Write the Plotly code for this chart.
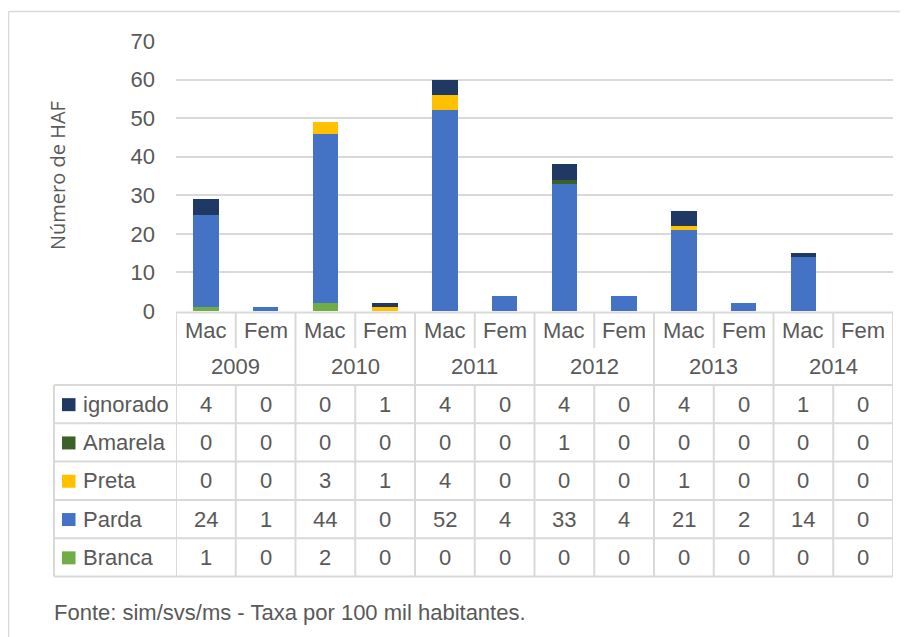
import plotly.graph_objects as go

years = ["2009", "2010", "2011", "2012", "2013", "2014"]
sexes = ["Mac", "Fem"]
ignorado = [4, 0, 0, 1, 4, 0, 4, 0, 4, 0, 1, 0]
amarela = [0, 0, 0, 0, 0, 0, 1, 0, 0, 0, 0, 0]
preta = [0, 0, 3, 1, 4, 0, 0, 0, 1, 0, 0, 0]
parda = [24, 1, 44, 0, 52, 4, 33, 4, 21, 2, 14, 0]
branca = [1, 0, 2, 0, 0, 0, 0, 0, 0, 0, 0, 0]
y_ticks = [0, 10, 20, 30, 40, 50, 60, 70]

W, H = 908, 637
OFF = 8  # page offset of the figure in the browser
FONT = "Liberation Sans, Arial"
TXT = "#595959"
GRID = "#d9d9d9"
FS = 22

series = [
    ("Branca", branca, "#70AD47"),
    ("Parda", parda, "#4472C4"),
    ("Preta", preta, "#FFC000"),
    ("Amarela", amarela, "#3C6128"),
    ("ignorado", ignorado, "#203864"),
]
table_order = ["ignorado", "Amarela", "Preta", "Parda", "Branca"]
lookup = {n: (v, c) for n, v, c in series}

n = len(years) * len(sexes)
xs = list(range(n))


def py(p):
    return 1 - (p - OFF) / H


def pxx(p):
    return (p - OFF) / W


fig = go.Figure()
for name, vals, col in series:
    fig.add_trace(go.Bar(x=xs, y=vals, name=name, marker=dict(color=col, line=dict(width=0)),
                         width=0.43, showlegend=False))

shapes = []
annotations = []
line = dict(color=GRID, width=2)
font = dict(size=FS, color=TXT, family=FONT)

top_hdr = 312.5
mid_hdr = 348
top_rows = 385
row_h = 38.3
left_lbl = 54
right_edge = 893

shapes.append(dict(type="line", xref="x", yref="paper", x0=-0.5, x1=n - 0.5,
                   y0=py(top_hdr), y1=py(top_hdr), line=line))
for k in range(n + 1):
    y_end = top_rows if k % 2 == 0 else mid_hdr
    shapes.append(dict(type="line", xref="x", yref="paper", x0=k - 0.5, x1=k - 0.5,
                       y0=py(top_hdr), y1=py(y_end), line=line))
for i in range(n):
    annotations.append(dict(x=i, y=py(330), xref="x", yref="paper", xanchor="center", yanchor="middle",
                            text=sexes[i % 2], showarrow=False, font=font))
for j, yr in enumerate(years):
    annotations.append(dict(x=2 * j + 0.5, y=py(366.5), xref="x", yref="paper", xanchor="center",
                            yanchor="middle", text=yr, showarrow=False, font=font))

nrows = len(table_order)
bottom = top_rows + nrows * row_h
for r in range(nrows + 1):
    yy = py(top_rows + r * row_h)
    shapes.append(dict(type="line", xref="paper", yref="paper", x0=pxx(left_lbl), x1=pxx(right_edge),
                       y0=yy, y1=yy, line=line))
shapes.append(dict(type="line", xref="paper", yref="paper", x0=pxx(left_lbl), x1=pxx(left_lbl),
                   y0=py(top_rows), y1=py(bottom), line=line))
for k in range(n + 1):
    shapes.append(dict(type="line", xref="x", yref="paper", x0=k - 0.5, x1=k - 0.5,
                       y0=py(top_rows), y1=py(bottom), line=line))

for r, name in enumerate(table_order):
    vals, col = lookup[name]
    yc = top_rows + (r + 0.5) * row_h
    shapes.append(dict(type="rect", xref="paper", yref="paper", x0=pxx(62), x1=pxx(75.5),
                       y0=py(yc + 7), y1=py(yc - 6), fillcolor=col, line=dict(width=0)))
    annotations.append(dict(x=pxx(81), y=py(yc), xref="paper", yref="paper", text=name,
                            xanchor="left", yanchor="middle", showarrow=False, font=font))
    for i, v in enumerate(vals):
        annotations.append(dict(x=i, y=py(yc), xref="x", yref="paper", text=str(v),
                                xanchor="center", yanchor="middle", showarrow=False, font=font))

# outer border
shapes.append(dict(type="line", xref="paper", yref="paper", x0=pxx(8.5), x1=pxx(8.5), y0=py(11.5), y1=0,
                   line=dict(color=GRID, width=1.5)))
shapes.append(dict(type="line", xref="paper", yref="paper", x0=pxx(8.5), x1=1, y0=py(11.5), y1=py(11.5),
                   line=dict(color=GRID, width=1.5)))

annotations.append(dict(x=pxx(58), y=py(176), xref="paper", yref="paper", text="Número de HAF",
                        textangle=-90, xanchor="center", yanchor="middle", showarrow=False,
                        font=dict(size=20, color=TXT, family="Open Sans")))
annotations.append(dict(x=pxx(52), y=py(612), xref="paper", yref="paper",
                        text="Fonte: sim/svs/ms - Taxa por 100 mil habitantes.", xanchor="left",
                        yanchor="middle", showarrow=False, font=font))

fig.update_layout(
    width=W, height=H,
    margin=dict(l=0, r=0, t=0, b=0, pad=0, autoexpand=False),
    paper_bgcolor="white", plot_bgcolor="white",
    barmode="stack",
    shapes=shapes, annotations=annotations,
    xaxis=dict(domain=[pxx(176), pxx(893)], range=[-0.5, n - 0.5], showticklabels=False,
               showgrid=False, zeroline=False, showline=False, fixedrange=True, automargin=False),
    yaxis=dict(domain=[py(311), py(41)], range=[0, 70], tickvals=y_ticks,
               showgrid=True, gridcolor=GRID, gridwidth=2, zeroline=False, showline=False,
               tickfont=font, ticklabelstandoff=20, fixedrange=True, automargin=False),
)

fig.write_html("out.html")
